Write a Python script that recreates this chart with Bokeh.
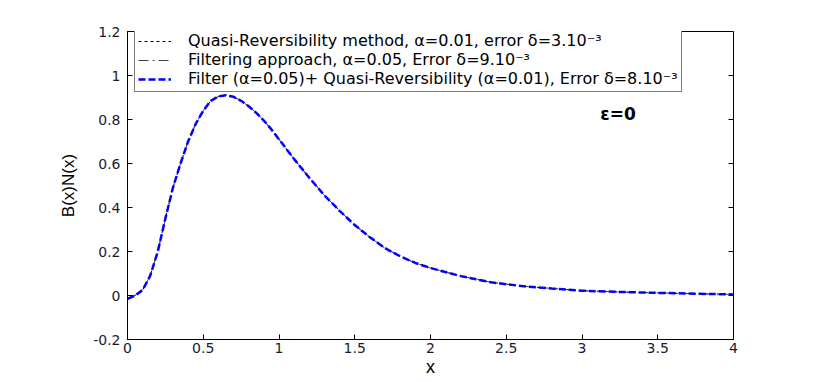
from bokeh.plotting import figure
from bokeh.models import FixedTicker, Range1d, Legend, LegendItem
from bokeh.embed import file_html
from bokeh.resources import INLINE
from bokeh.core.properties import value

# ---- data ----
x_vals = [0, 0.05, 0.1, 0.15, 0.2, 0.25, 0.3, 0.35, 0.4, 0.45, 0.5, 0.55, 0.6, 0.65,
          0.7, 0.75, 0.8, 0.85, 0.9, 0.95, 1.0, 1.1, 1.2, 1.3, 1.4, 1.5, 1.6, 1.7, 1.8,
          1.9, 2.0, 2.2, 2.4, 2.6, 2.8, 3.0, 3.25, 3.5, 3.75, 4.0]
quasi_rev = [-0.015, 0.0, 0.025, 0.09, 0.2, 0.35, 0.49, 0.6, 0.7, 0.78, 0.84, 0.885,
             0.905, 0.91, 0.903, 0.885, 0.86, 0.83, 0.795, 0.755, 0.71, 0.62, 0.535,
             0.455, 0.385, 0.32, 0.265, 0.215, 0.178, 0.148, 0.125, 0.088, 0.06, 0.043,
             0.032, 0.022, 0.016, 0.012, 0.008, 0.005]
filtering = [-0.015, 0.0, 0.025, 0.09, 0.2, 0.35, 0.49, 0.6, 0.7, 0.78, 0.84, 0.885,
             0.905, 0.91, 0.903, 0.885, 0.86, 0.83, 0.795, 0.755, 0.71, 0.62, 0.535,
             0.455, 0.385, 0.32, 0.265, 0.215, 0.178, 0.148, 0.125, 0.088, 0.06, 0.043,
             0.032, 0.022, 0.016, 0.012, 0.008, 0.005]
combined = [-0.015, 0.0, 0.025, 0.09, 0.2, 0.35, 0.49, 0.6, 0.7, 0.78, 0.84, 0.885,
            0.905, 0.91, 0.903, 0.885, 0.86, 0.83, 0.795, 0.755, 0.71, 0.62, 0.535,
            0.455, 0.385, 0.32, 0.265, 0.215, 0.178, 0.148, 0.125, 0.088, 0.06, 0.043,
            0.032, 0.022, 0.016, 0.012, 0.008, 0.005]

series_labels = [
    "Quasi-Reversibility method, \u03b1=0.01, error \u03b4=3.10\u207b\u00b3",
    "Filtering approach, \u03b1=0.05, Error \u03b4=9.10\u207b\u00b3",
    "Filter (\u03b1=0.05)+ Quasi-Reversibility (\u03b1=0.01), Error \u03b4=8.10\u207b\u00b3",
]

x_ticks = [0, 0.5, 1, 1.5, 2, 2.5, 3, 3.5, 4]
x_tick_labels = ["0", "0.5", "1", "1.5", "2", "2.5", "3", "3.5", "4"]
y_ticks = [-0.2, 0, 0.2, 0.4, 0.6, 0.8, 1, 1.2]
y_tick_labels = ["-0.2", "0", "0.2", "0.4", "0.6", "0.8", "1", "1.2"]

annot_text = "\u03b5=0"
annot_x = [3.12]
annot_y = [0.825]

X0, X1, Y0, Y1 = 0, 4, -0.2, 1.2
FW, FH = 606, 308
TICK = 5
LAB_FONT = "Liberation Sans"
TXT_FONT = "DejaVu Sans"

p = figure(frame_width=FW, frame_height=FH, min_border_left=127, min_border_right=830 - 127 - FW,
           min_border_top=31, min_border_bottom=0,
           x_range=Range1d(X0, X1), y_range=Range1d(Y0, Y1),
           output_backend="svg", toolbar_location=None)
p.xgrid.visible = False
p.ygrid.visible = False
p.outline_line_color = "black"
p.outline_line_width = 1
p.background_fill_color = "white"
p.border_fill_color = "white"

for ax, ticks, labels in ((p.xaxis[0], x_ticks, x_tick_labels), (p.yaxis[0], y_ticks, y_tick_labels)):
    ax.ticker = FixedTicker(ticks=ticks)
    ax.major_tick_in = TICK
    ax.major_tick_out = 0
    ax.minor_tick_in = 0
    ax.minor_tick_out = 0
    ax.axis_line_color = "black"
    ax.major_tick_line_color = "black"
    ax.major_label_overrides = {t: l for t, l in zip(ticks, labels)}
    ax.major_label_text_font = TXT_FONT
    ax.major_label_text_font_size = "14px"
    ax.major_label_text_color = "#1a1a30"
    ax.axis_label_text_font = LAB_FONT
    ax.axis_label_text_font_style = "normal"
    ax.axis_label_text_color = "black"

p.xaxis[0].axis_label = "x"
p.xaxis[0].axis_label_text_font_size = "18px"
p.yaxis[0].axis_label = "B(x)N(x)"
p.yaxis[0].axis_label_text_font_size = "17px"
p.xaxis[0].major_label_standoff = 3
p.xaxis[0].axis_label_standoff = 1
p.yaxis[0].major_label_standoff = 7
p.yaxis[0].axis_label_standoff = 12

# inward ticks on the top and right edges of the box
dy = TICK * (Y1 - Y0) / FH
dx = TICK * (X1 - X0) / FW
p.segment(x0=x_ticks, y0=[Y1] * len(x_ticks), x1=x_ticks, y1=[Y1 - dy] * len(x_ticks),
          line_color="black", line_width=1)
p.segment(x0=[X1] * len(y_ticks), y0=y_ticks, x1=[X1 - dx] * len(y_ticks), y1=y_ticks,
          line_color="black", line_width=1)

r1 = p.line(x_vals, quasi_rev, line_color="black", line_width=1, line_dash="3 3")
r2 = p.line(x_vals, filtering, line_color="#444444", line_width=1, line_dash="10 4 2 4")
r3 = p.line(x_vals, combined, line_color="#0000ff", line_width=2.5, line_dash="7 3")

LEG_H = 60
legend = Legend(items=[LegendItem(label=series_labels[0], renderers=[r1]),
                       LegendItem(label=series_labels[1], renderers=[r2]),
                       LegendItem(label=series_labels[2], renderers=[r3])],
                location=(7, FH - 1 - LEG_H))
legend.label_text_font = TXT_FONT
legend.label_text_font_size = "16px"
legend.label_text_color = "black"
legend.label_height = 18
legend.glyph_height = 18
legend.glyph_width = 33
legend.label_standoff = 17
legend.spacing = 0
legend.padding = 3
legend.margin = 0
legend.border_line_color = "black"
legend.border_line_width = 1
legend.background_fill_color = "white"
legend.background_fill_alpha = 1
p.add_layout(legend, "center")

p.text(x=annot_x, y=annot_y, text=[annot_text], text_font=value(TXT_FONT),
       text_font_size="17px", text_font_style="bold", text_baseline="middle",
       text_align="left", text_color="black")

open("out.html", "w").write(file_html(p, INLINE))
